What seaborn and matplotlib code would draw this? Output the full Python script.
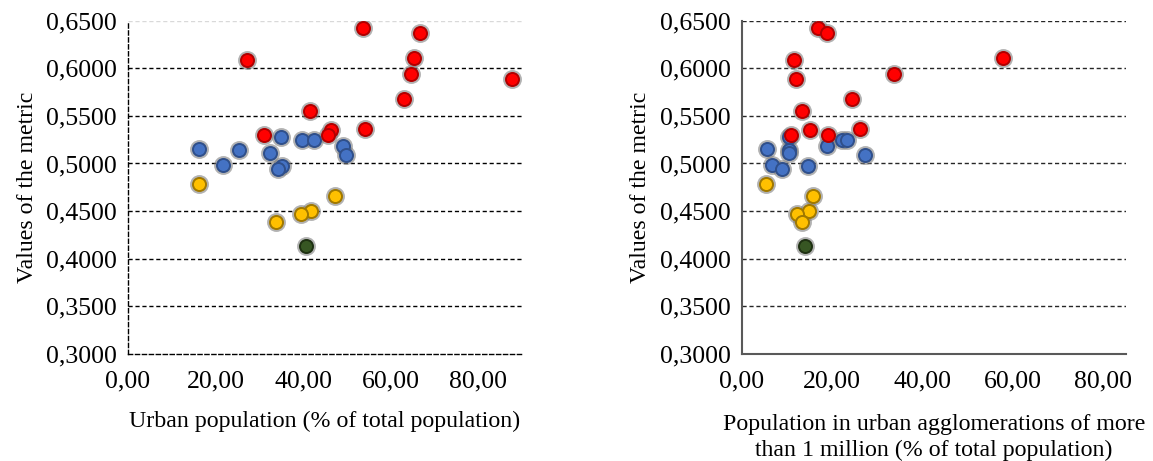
import matplotlib
matplotlib.use('Agg')
import matplotlib.pyplot as plt
import pandas as pd
import seaborn as sns
from matplotlib.ticker import FuncFormatter

# values
groups = (['high'] * 12) + (['mid'] * 11) + (['low'] * 5) + (['lowest'] * 1)

metric = [0.6418, 0.6366, 0.6086, 0.6104, 0.5942, 0.5884, 0.5680, 0.5553, 0.5301, 0.5352, 0.5301, 0.5363,
          0.5153, 0.5146, 0.4983, 0.4978, 0.4938, 0.5106, 0.5279, 0.5251, 0.5246, 0.5180, 0.5091,
          0.4786, 0.4656, 0.4501, 0.4470, 0.4386,
          0.4129]

urban_pop = [53.7, 66.7, 27.3, 65.3, 64.6, 87.8, 63.0, 41.6, 31.1, 46.3, 45.6, 54.2,
             16.2, 25.4, 21.8, 35.1, 34.2, 32.5, 34.9, 39.8, 42.6, 49.2, 49.7,
             16.2, 47.3, 41.8, 39.5, 33.8,
             40.6]

agglo_pop = [16.8, 18.8, 11.6, 57.9, 33.8, 12.1, 24.3, 13.3, 11.0, 15.2, 19.2, 26.1,
             5.5, 10.5, 6.8, 14.6, 8.9, 10.4, 10.4, 22.1, 23.4, 18.9, 27.3,
             5.3, 15.7, 14.8, 12.3, 13.3,
             14.1]

group_fill = {'high': '#FF0000', 'mid': '#4472C4', 'low': '#FFC000', 'lowest': '#375623'}
group_edge = {'high': '#B00000', 'mid': '#2F4F8A', 'low': '#A07800', 'lowest': '#1E3012'}

x_labels = ['Urban population (% of total population)',
            'Population in urban agglomerations of more\nthan 1 million (% of total population)']

df = pd.DataFrame({'group': groups, 'metric': metric, 'urban': urban_pop, 'agglo': agglo_pop})

sns.set_theme(style='white')
plt.rcParams['font.family'] = ['Liberation Serif', 'DejaVu Serif']

fig = plt.figure(figsize=(11.53, 4.61), dpi=100)
ax1 = fig.add_axes([0.111, 0.232, 0.3417, 0.7234])
ax2 = fig.add_axes([0.6433, 0.232, 0.3331, 0.7234])

fs_lab = 17.2
fs_tick = 18.5


def draw_points(ax, xcol):
    # grey halo behind each marker
    sns.scatterplot(data=df, x=xcol, y='metric', ax=ax, color='#7F7F7F', alpha=0.6,
                    s=185, linewidth=0, legend=False, zorder=3)
    for g in ['mid', 'low', 'lowest', 'high']:
        sub = df[df['group'] == g]
        sns.scatterplot(data=sub, x=xcol, y='metric', ax=ax, color=group_fill[g],
                        edgecolor=group_edge[g], linewidth=1.4, s=88, legend=False, zorder=4)


fmt_y = FuncFormatter(lambda v, p: '{:.4f}'.format(v).replace('.', ','))
fmt_x = FuncFormatter(lambda v, p: '{:.2f}'.format(v).replace('.', ','))

for ax, xcol, xmax, lab, lpad in [(ax1, 'urban', 90, x_labels[0], 13),
                                  (ax2, 'agglo', 85, x_labels[1], 15)]:
    draw_points(ax, xcol)
    ax.set_ylim(0.30, 0.65)
    ax.set_xlim(0, xmax)
    ax.set_yticks([0.30, 0.35, 0.40, 0.45, 0.50, 0.55, 0.60, 0.65])
    ax.set_xticks([0, 20, 40, 60, 80])
    ax.yaxis.set_major_formatter(fmt_y)
    ax.xaxis.set_major_formatter(fmt_x)
    ax.set_ylabel('Values of the metric', fontsize=fs_lab, color='black', labelpad=6)
    ax.set_xlabel(lab, fontsize=fs_lab, color='black', labelpad=lpad, linespacing=1.3)
    ax.tick_params(axis='both', labelsize=fs_tick, colors='black', width=1)
    ax.tick_params(axis='y', direction='inout', length=8, color='#404040', pad=4)
    ax.tick_params(axis='x', direction='out', length=5, color='#404040', pad=7)
    ax.spines['top'].set_visible(False)
    ax.spines['right'].set_visible(False)
    ax.set_facecolor('white')

# left panel: everything dashed, top line faint
for yv in [0.35, 0.40, 0.45, 0.50, 0.55, 0.60]:
    ax1.axhline(yv, color='black', linestyle=(0, (3, 2)), linewidth=1, zorder=1)
ax1.axhline(0.65, color='#D9D9D9', linestyle=(0, (3, 2)), linewidth=1, zorder=1)
for sp in ['left', 'bottom']:
    ax1.spines[sp].set_color('black')
    ax1.spines[sp].set_linestyle((0, (3, 2)))
    ax1.spines[sp].set_linewidth(1)

# right panel: solid grey axes, dashed grid
for yv in [0.35, 0.40, 0.45, 0.50, 0.55, 0.60, 0.65]:
    ax2.axhline(yv, color='#262626', linestyle=(0, (3, 2)), linewidth=1, zorder=1)
for sp in ['left', 'bottom']:
    ax2.spines[sp].set_color('#595959')
    ax2.spines[sp].set_linewidth(1.5)

fig.savefig('out.png', dpi=100, facecolor='white')
